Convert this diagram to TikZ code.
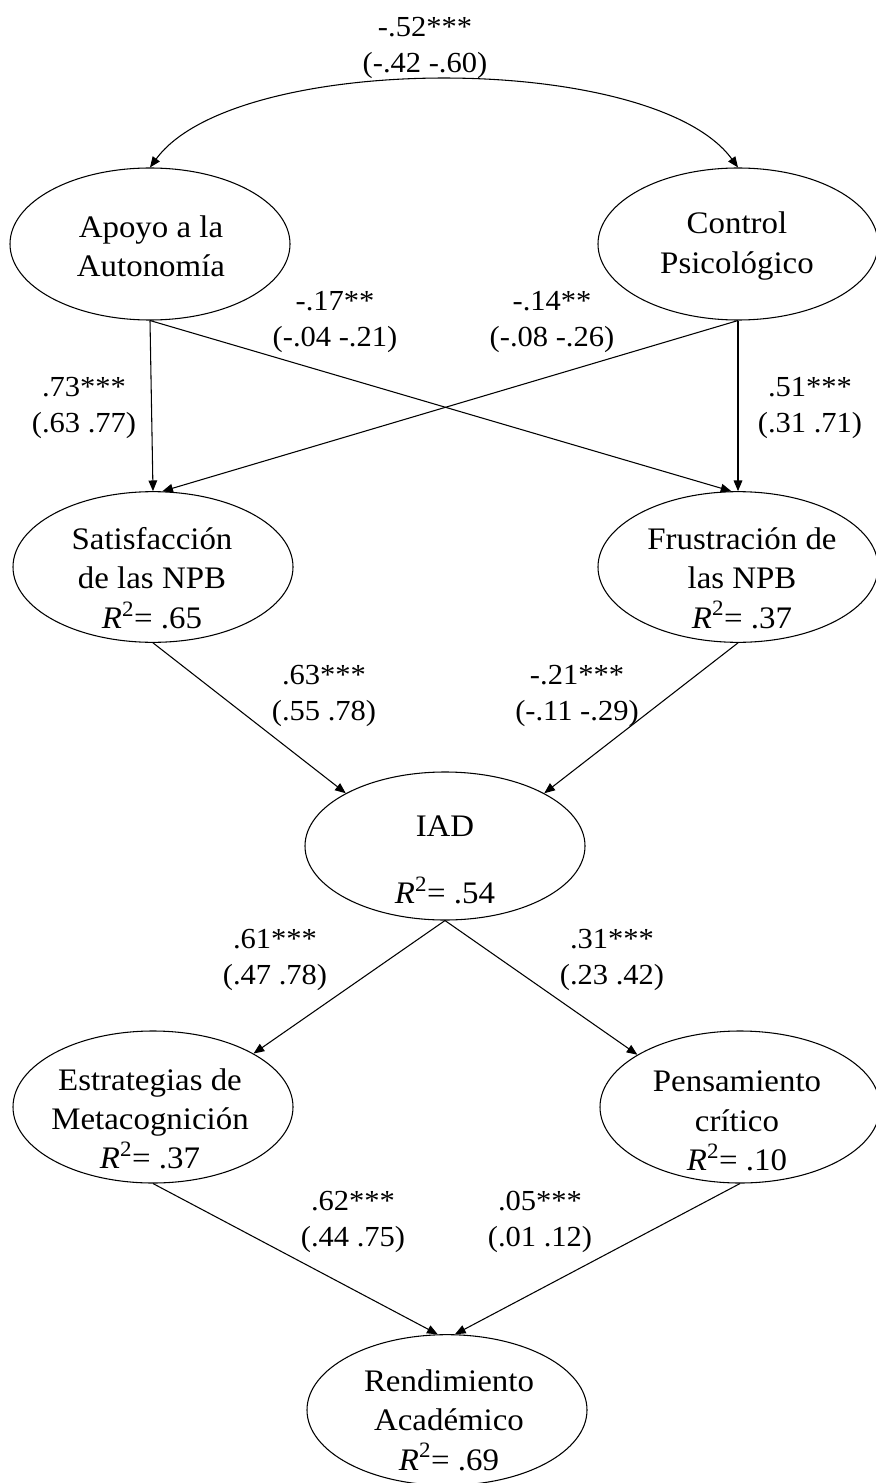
\documentclass[tikz,border=0pt]{standalone}
\usepackage{fontspec}
\setmainfont{Liberation Serif}[FakeStretch=1.05]
\usetikzlibrary{arrows.meta,shapes.geometric}
\newcommand{\rsq}[1]{\textit{R}\textsuperscript{2}= #1}
\begin{document}
\begin{tikzpicture}[x=0.75pt,y=-0.75pt,
  latent/.style={ellipse,draw,line width=0.8pt,minimum width=210pt,minimum height=113pt,inner sep=0pt},
  nodetext/.style={align=center,font=\fontsize{23.5}{29.5}\selectfont,inner sep=0pt},
  coef/.style={align=center,font=\fontsize{21.8}{27.5}\selectfont,inner sep=0pt},
  conn/.style={line width=0.8pt,-{Triangle[length=8pt,width=6.5pt]}},
  biconn/.style={line width=0.8pt,{Triangle[length=8pt,width=6.5pt]}-{Triangle[length=8pt,width=6.5pt]}},
]
\useasboundingbox (0,0) rectangle (875,1483);
\fill[white] (0,0) rectangle (875,1483);

% latent variables
\node[latent,minimum height=114pt] (apoyo) at (150,244) {};
\node[latent,minimum height=114pt] (control) at (738,244) {};
\node[latent] (sat) at (153,567) {};
\node[latent] (fru) at (738,567) {};
\node[latent,minimum height=111pt] (iad) at (445,846) {};
\node[latent,minimum height=114pt] (est) at (153,1107) {};
\node[latent,minimum height=114pt] (pen) at (740,1107) {};
\node[latent] (ren) at (447,1410) {};

% texts
\node[nodetext] (apoyo-t) at (151,246) {Apoyo a la\\Autonomía};
\node[nodetext] (control-t) at (737,246) {Control\\Psicológico};
\node[nodetext] (sat-t) at (152,578) {Satisfacción\\de las NPB\\\rsq{.65}};
\node[nodetext] (fru-t) at (742,578) {Frustración de\\las NPB\\\rsq{.37}};
\node[nodetext] (iad-t) at (445,860) {IAD\\[21pt]\rsq{.54}};
\node[nodetext] (est-t) at (150,1119) {Estrategias de\\Metacognición\\\rsq{.37}};
\node[nodetext] (pen-t) at (737,1121) {Pensamiento\\crítico\\\rsq{.10}};
\node[nodetext] (ren-t) at (449,1420) {Rendimiento\\Académico\\\rsq{.69}};

% connectors
\draw[biconn] (apoyo.north) .. controls (235,51) and (653,51) .. (control.north);
\draw[conn] (apoyo.south) -- (sat.north);
\draw[conn] (apoyo.south) -- (fru.95);
\draw[conn] (control.south) -- (fru.north);
\draw[conn] (control.south) -- (sat.83);
\draw[conn] (sat.south) -- (iad.152);
\draw[conn] (fru.south) -- (iad.28);
\draw[conn] (iad.south) -- (est.28);
\draw[conn] (iad.south) -- (pen.153);
\draw[conn] (est.south) -- (ren.97);
\draw[conn] (pen.south) -- (ren.84);

% coefficients
\node[coef] (c1) at (425,48) {-.52***\\(-.42 -.60)};
\node[coef] (c2) at (335,322) {-.17**\\(-.04 -.21)};
\node[coef] (c3) at (552,322) {-.14**\\(-.08 -.26)};
\node[coef] (c4) at (84,408) {.73***\\(.63 .77)};
\node[coef] (c5) at (810,408) {.51***\\(.31 .71)};
\node[coef] (c6) at (324,696) {.63***\\(.55 .78)};
\node[coef] (c7) at (577,696) {-.21***\\(-.11 -.29)};
\node[coef] (c8) at (275,960) {.61***\\(.47 .78)};
\node[coef] (c9) at (612,960) {.31***\\(.23 .42)};
\node[coef] (c10) at (353,1222) {.62***\\(.44 .75)};
\node[coef] (c11) at (540,1222) {.05***\\(.01 .12)};
\end{tikzpicture}
\end{document}
